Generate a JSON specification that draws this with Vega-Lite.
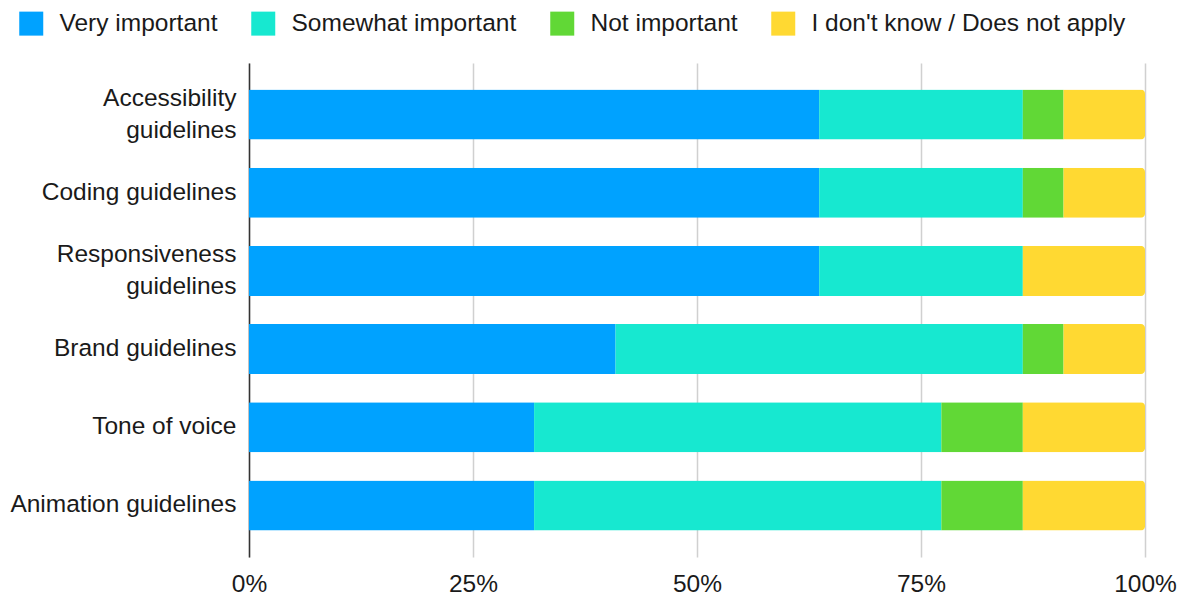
{
  "$schema": "https://vega.github.io/schema/vega-lite/v6.json",
  "width": 896,
  "height": 494,
  "autosize": {"type": "none"},
  "padding": {"left": 249, "top": 63, "right": 43, "bottom": 42},
  "background": "#ffffff",
  "config": {
    "font": "Liberation Sans",
    "view": {"stroke": null}
  },
  "data": {
    "values": [
      {"topic": "Accessibility guidelines", "answer": "Very important", "k": 1, "count": 14},
      {"topic": "Accessibility guidelines", "answer": "Somewhat important", "k": 2, "count": 5},
      {"topic": "Accessibility guidelines", "answer": "Not important", "k": 3, "count": 1},
      {"topic": "Accessibility guidelines", "answer": "I don't know / Does not apply", "k": 4, "count": 2},
      {"topic": "Coding guidelines", "answer": "Very important", "k": 1, "count": 14},
      {"topic": "Coding guidelines", "answer": "Somewhat important", "k": 2, "count": 5},
      {"topic": "Coding guidelines", "answer": "Not important", "k": 3, "count": 1},
      {"topic": "Coding guidelines", "answer": "I don't know / Does not apply", "k": 4, "count": 2},
      {"topic": "Responsiveness guidelines", "answer": "Very important", "k": 1, "count": 14},
      {"topic": "Responsiveness guidelines", "answer": "Somewhat important", "k": 2, "count": 5},
      {"topic": "Responsiveness guidelines", "answer": "Not important", "k": 3, "count": 0},
      {"topic": "Responsiveness guidelines", "answer": "I don't know / Does not apply", "k": 4, "count": 3},
      {"topic": "Brand guidelines", "answer": "Very important", "k": 1, "count": 9},
      {"topic": "Brand guidelines", "answer": "Somewhat important", "k": 2, "count": 10},
      {"topic": "Brand guidelines", "answer": "Not important", "k": 3, "count": 1},
      {"topic": "Brand guidelines", "answer": "I don't know / Does not apply", "k": 4, "count": 2},
      {"topic": "Tone of voice", "answer": "Very important", "k": 1, "count": 7},
      {"topic": "Tone of voice", "answer": "Somewhat important", "k": 2, "count": 10},
      {"topic": "Tone of voice", "answer": "Not important", "k": 3, "count": 2},
      {"topic": "Tone of voice", "answer": "I don't know / Does not apply", "k": 4, "count": 3},
      {"topic": "Animation guidelines", "answer": "Very important", "k": 1, "count": 7},
      {"topic": "Animation guidelines", "answer": "Somewhat important", "k": 2, "count": 10},
      {"topic": "Animation guidelines", "answer": "Not important", "k": 3, "count": 2},
      {"topic": "Animation guidelines", "answer": "I don't know / Does not apply", "k": 4, "count": 3}
    ]
  },
  "mark": {"type": "bar", "cornerRadiusEnd": 4},
  "encoding": {
    "y": {
      "field": "topic",
      "type": "nominal",
      "sort": null,
      "scale": {"paddingInner": 0.36, "paddingOuter": 0.34},
      "axis": {
        "title": null,
        "ticks": false,
        "domain": true,
        "domainColor": "#333333",
        "domainWidth": 1.5,
        "labelFontSize": 24.5,
        "labelColor": "#1a1a1a",
        "labelPadding": 13,
        "labelLineHeight": 32,
        "labelLimit": 400,
        "labelOffset": {"condition": {"test": "length(datum.label) > 20", "value": -16}, "value": 0},
        "labelExpr": "length(datum.label) > 20 ? split(datum.label, ' ') : datum.label"
      }
    },
    "x": {
      "field": "count",
      "type": "quantitative",
      "stack": "normalize",
      "scale": {"domain": [0, 1]},
      "axis": {
        "title": null,
        "format": ".0%",
        "values": [0, 0.25, 0.5, 0.75, 1],
        "domain": false,
        "ticks": false,
        "grid": true,
        "gridColor": "#d0d0d0",
        "gridWidth": 1.5,
        "labelFontSize": 24.5,
        "labelColor": "#1a1a1a",
        "labelPadding": 15,
        "labelFlush": false
      }
    },
    "color": {
      "field": "answer",
      "type": "nominal",
      "scale": {
        "domain": ["Very important", "Somewhat important", "Not important", "I don't know / Does not apply"],
        "range": ["#00A2FF", "#17E8D0", "#61D836", "#FFD932"]
      },
      "legend": {
        "title": null,
        "orient": "none",
        "direction": "horizontal",
        "columns": 4,
        "legendX": -230,
        "legendY": -52,
        "symbolType": "square",
        "symbolSize": 576,
        "symbolStrokeWidth": 0,
        "symbolOpacity": 1,
        "labelFontSize": 24.5,
        "labelColor": "#1a1a1a",
        "labelOffset": 16,
        "columnPadding": 33,
        "labelLimit": 500
      }
    },
    "order": {"field": "k", "type": "quantitative"}
  }
}
